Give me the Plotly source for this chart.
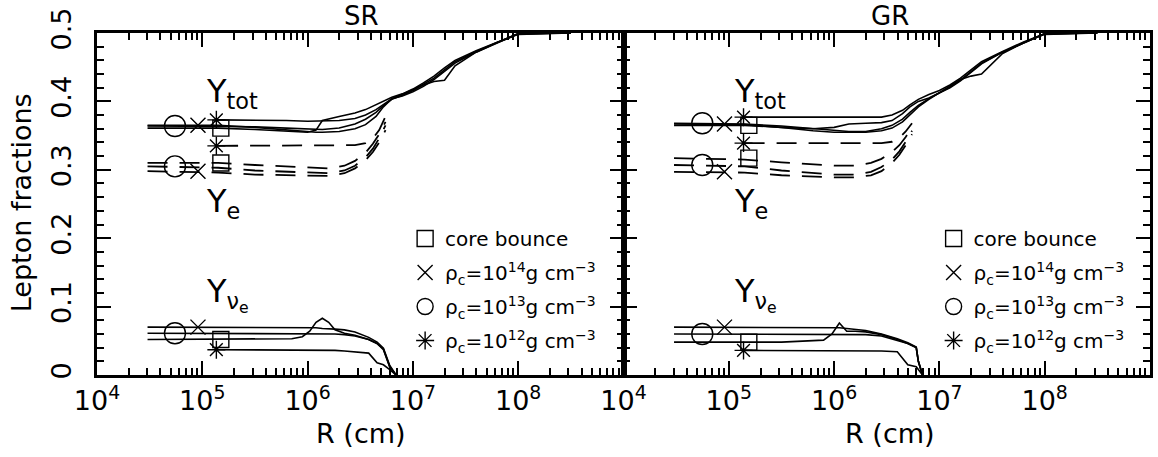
import plotly.graph_objects as go

# ---- radius grids (log10 R [cm]) ----
LOGR_TOT = [4.48, 5.0, 5.15, 5.5, 5.8, 6.0, 6.08, 6.14, 6.3, 6.45, 6.55, 6.65,
            6.72, 6.8, 6.9, 7.0, 7.1, 7.2, 7.3, 7.4, 7.6, 7.8, 8.0, 8.5]
LOGR_E = [4.48, 5.0, 5.15, 5.5, 6.0, 6.2, 6.35, 6.45, 6.55, 6.62, 6.68, 6.74]
LOGR_NU_SR = [4.48, 5.0, 5.15, 5.5, 5.85, 5.95, 6.02, 6.08, 6.14, 6.2, 6.26, 6.35,
              6.45, 6.58, 6.66, 6.72, 6.78, 6.84]
LOGR_NU_GR = [4.48, 5.0, 5.15, 5.5, 5.9, 5.98, 6.05, 6.12, 6.2, 6.3, 6.45, 6.6,
              6.7, 6.78, 6.8, 6.84]

# ---- SR: total lepton fraction ----
SR_YTOT_BOUNCE = [0.361, 0.361, 0.361, 0.359, 0.356, 0.355, 0.358, 0.372, 0.378, 0.383, 0.388, 0.395,
                  0.401, 0.406, 0.411, 0.418, 0.427, 0.437, 0.449, 0.460, 0.474, 0.487, 0.499, 0.500]
SR_YTOT_R14 = [0.365, 0.365, 0.365, 0.362, 0.358, 0.356, 0.355, 0.355, 0.356, 0.360, 0.366, 0.378,
               0.392, 0.404, 0.410, 0.417, 0.424, 0.429, 0.431, 0.452, 0.472, 0.486, 0.498, 0.500]
SR_YTOT_R13 = [0.364, 0.364, 0.364, 0.363, 0.361, 0.360, 0.359, 0.359, 0.361, 0.367, 0.374, 0.384,
               0.394, 0.403, 0.409, 0.416, 0.425, 0.434, 0.446, 0.458, 0.473, 0.486, 0.499, 0.500]
SR_YTOT_R12 = [None, None, 0.373, 0.373, 0.372, 0.371, 0.371, 0.371, 0.372, 0.375, 0.380, 0.388,
               0.396, 0.404, 0.408, 0.414, 0.422, 0.432, 0.444, 0.456, 0.472, 0.486, 0.499, 0.500]

# ---- SR: electron fraction ----
SR_YE_BOUNCE = [0.310, 0.310, 0.310, 0.307, 0.303, 0.302, 0.306, 0.313, 0.325, 0.338, 0.352, 0.370]
SR_YE_R14 = [0.298, 0.297, 0.296, 0.293, 0.291, 0.291, 0.295, 0.302, 0.314, 0.326, 0.340, 0.358]
SR_YE_R13 = [0.305, 0.304, 0.303, 0.299, 0.296, 0.295, 0.299, 0.306, 0.318, 0.331, 0.346, 0.365]
SR_YE_R12 = [None, None, 0.335, 0.335, 0.335, 0.335, 0.335, 0.336, 0.339, 0.346, 0.358, 0.378]

# ---- SR: electron-neutrino fraction ----
SR_YNU_BOUNCE = [0.052, 0.052, 0.052, 0.052, 0.053, 0.056, 0.064, 0.077, 0.083, 0.077, 0.066, 0.061,
                 0.058, 0.052, 0.046, 0.037, 0.012, 0.0]
SR_YNU_R14 = [0.070, 0.070, 0.070, 0.070, 0.070, 0.069, 0.069, 0.069, 0.068, 0.068, 0.067, 0.066,
              0.063, 0.055, 0.048, 0.039, 0.014, 0.0]
SR_YNU_R13 = [0.061, 0.061, 0.061, 0.061, 0.061, 0.061, 0.061, 0.061, 0.061, 0.060, 0.060, 0.059,
              0.057, 0.052, 0.046, 0.038, 0.012, 0.0]
SR_YNU_R12 = [None, None, 0.037, 0.037, 0.036, 0.036, 0.036, 0.036, 0.036, 0.036, 0.036, 0.035,
              0.034, 0.032, 0.018, 0.015, 0.008, 0.0]

# ---- GR: total lepton fraction ----
GR_YTOT_BOUNCE = [0.365, 0.365, 0.365, 0.362, 0.360, 0.362, 0.365, 0.367, 0.368, 0.369, 0.372, 0.382,
                  0.392, 0.400, 0.405, 0.412, 0.420, 0.430, 0.442, 0.455, 0.472, 0.486, 0.499, 0.500]
GR_YTOT_R14 = [0.367, 0.367, 0.366, 0.362, 0.357, 0.355, 0.355, 0.355, 0.355, 0.357, 0.361, 0.370,
               0.380, 0.392, 0.403, 0.413, 0.423, 0.432, 0.437, 0.440, 0.470, 0.486, 0.498, 0.500]
GR_YTOT_R13 = [0.368, 0.368, 0.367, 0.364, 0.360, 0.357, 0.356, 0.356, 0.356, 0.360, 0.365, 0.374,
               0.384, 0.394, 0.404, 0.412, 0.421, 0.431, 0.443, 0.456, 0.472, 0.486, 0.499, 0.500]
GR_YTOT_R12 = [None, None, 0.377, 0.377, 0.376, 0.376, 0.376, 0.376, 0.376, 0.377, 0.380, 0.387,
               0.395, 0.403, 0.410, 0.416, 0.424, 0.434, 0.446, 0.458, 0.473, 0.487, 0.499, 0.500]

# ---- GR: electron fraction ----
GR_YE_BOUNCE = [0.317, 0.316, 0.315, 0.311, 0.306, 0.306, 0.310, 0.316, 0.326, 0.336, 0.348, 0.362]
GR_YE_R14 = [0.297, 0.297, 0.296, 0.292, 0.289, 0.289, 0.292, 0.298, 0.310, 0.322, 0.336, 0.352]
GR_YE_R13 = [0.307, 0.306, 0.305, 0.299, 0.293, 0.293, 0.297, 0.304, 0.315, 0.327, 0.341, 0.357]
GR_YE_R12 = [None, None, 0.339, 0.339, 0.339, 0.339, 0.339, 0.339, 0.341, 0.347, 0.356, 0.368]

# ---- GR: electron-neutrino fraction ----
GR_YNU_BOUNCE = [0.048, 0.048, 0.048, 0.048, 0.051, 0.060, 0.076, 0.064, 0.064, 0.063, 0.059, 0.052,
                 0.046, 0.040, 0.020, 0.0]
GR_YNU_R14 = [0.070, 0.070, 0.070, 0.070, 0.070, 0.069, 0.069, 0.068, 0.067, 0.065, 0.060, 0.053,
              0.047, 0.041, 0.020, 0.0]
GR_YNU_R13 = [0.060, 0.060, 0.060, 0.060, 0.060, 0.060, 0.060, 0.060, 0.060, 0.059, 0.057, 0.051,
              0.046, 0.040, 0.020, 0.0]
GR_YNU_R12 = [None, None, 0.036, 0.036, 0.036, 0.036, 0.036, 0.036, 0.036, 0.035, 0.035, 0.034,
              0.015, 0.012, 0.008, 0.0]

# ---- symbols marking each epoch: radius and (Ytot, Ye, Ynu) ----
EPOCHS = ["bounce", "r14", "r13", "r12"]
EPOCH_NAMES = ["core bounce",
               "ρ<sub>c</sub>=10<sup>14</sup>g cm<sup>−3</sup>",
               "ρ<sub>c</sub>=10<sup>13</sup>g cm<sup>−3</sup>",
               "ρ<sub>c</sub>=10<sup>12</sup>g cm<sup>−3</sup>"]
SR_MARK_R = [1.5e5, 9.1e4, 5.5e4, 1.36e5]
SR_MARK_Y = [[0.361, 0.310, 0.052], [0.365, 0.298, 0.070],
             [0.364, 0.305, 0.061], [0.373, 0.335, 0.037]]
GR_MARK_R = [1.55e5, 9.1e4, 5.6e4, 1.38e5]
GR_MARK_Y = [[0.365, 0.317, 0.048], [0.367, 0.297, 0.070],
             [0.368, 0.307, 0.060], [0.377, 0.339, 0.036]]

X_TICKS = [1e4, 1e5, 1e6, 1e7, 1e8]
X_TICKTEXT = ["10<sup>4</sup>", "10<sup>5</sup>", "10<sup>6</sup>", "10<sup>7</sup>", "10<sup>8</sup>"]
Y_TICKS = [0, 0.1, 0.2, 0.3, 0.4, 0.5]
Y_TICKTEXT = ["0", "0.1", "0.2", "0.3", "0.4", "0.5"]

FONT = "DejaVu Sans"
INK = "black"

SYMBOLS = {
    "bounce": dict(symbol="square-open", size=16, line=dict(width=1.4, color=INK), color=INK),
    "r14": dict(symbol="x-thin-open", size=15, line=dict(width=1.4, color=INK), color=INK),
    "r13": dict(symbol="circle-open", size=21, line=dict(width=1.4, color=INK), color=INK),
    "r12": dict(symbol="asterisk-open", size=15, line=dict(width=1.4, color=INK), color=INK),
}


def to_r(logs):
    return [10 ** v for v in logs]


fig = go.Figure()

panels = [
    ("x", "y", "legend",
     [SR_YTOT_BOUNCE, SR_YTOT_R14, SR_YTOT_R13, SR_YTOT_R12],
     [SR_YE_BOUNCE, SR_YE_R14, SR_YE_R13, SR_YE_R12],
     [SR_YNU_BOUNCE, SR_YNU_R14, SR_YNU_R13, SR_YNU_R12], LOGR_NU_SR,
     SR_MARK_R, SR_MARK_Y),
    ("x2", "y2", "legend2",
     [GR_YTOT_BOUNCE, GR_YTOT_R14, GR_YTOT_R13, GR_YTOT_R12],
     [GR_YE_BOUNCE, GR_YE_R14, GR_YE_R13, GR_YE_R12],
     [GR_YNU_BOUNCE, GR_YNU_R14, GR_YNU_R13, GR_YNU_R12], LOGR_NU_GR,
     GR_MARK_R, GR_MARK_Y),
]

for xa, ya, leg, ytot, ye, ynu, logr_nu, mark_r, mark_y in panels:
    for k in range(4):
        fig.add_trace(go.Scatter(x=to_r(LOGR_TOT), y=ytot[k], mode="lines", xaxis=xa, yaxis=ya,
                                 line=dict(color=INK, width=1.6), showlegend=False, hoverinfo="skip"))
        fig.add_trace(go.Scatter(x=to_r(LOGR_E), y=ye[k], mode="lines", xaxis=xa, yaxis=ya,
                                 line=dict(color=INK, width=1.8, dash="20px,12px"),
                                 showlegend=False, hoverinfo="skip"))
        fig.add_trace(go.Scatter(x=to_r(logr_nu), y=ynu[k], mode="lines", xaxis=xa, yaxis=ya,
                                 line=dict(color=INK, width=1.6), showlegend=False, hoverinfo="skip"))
    for k, ep in enumerate(EPOCHS):
        fig.add_trace(go.Scatter(x=[mark_r[k]] * 3, y=mark_y[k], mode="markers", xaxis=xa, yaxis=ya,
                                 marker=SYMBOLS[ep], name=EPOCH_NAMES[k], legend=leg,
                                 legendgroup=f"{leg}-{ep}", showlegend=True))

minor_x = [m * 10 ** d for d in range(4, 9) for m in range(2, 10)]

xcommon = dict(type="log", range=[4, 9], tickvals=X_TICKS, ticktext=X_TICKTEXT,
               showline=True, linecolor=INK, linewidth=2.5, mirror="allticks",
               ticks="inside", ticklen=14, tickwidth=2, tickcolor=INK,
               showgrid=False, zeroline=False,
               tickfont=dict(family=FONT, size=27, color=INK),
               minor=dict(ticks="inside", ticklen=7, tickwidth=2, tickcolor=INK,
                          tickmode="array", tickvals=minor_x, showgrid=False))
ycommon = dict(range=[0, 0.5], tickvals=Y_TICKS, ticktext=Y_TICKTEXT,
               showline=True, linecolor=INK, linewidth=2.5, mirror="allticks",
               ticks="inside", ticklen=14, tickwidth=2, tickcolor=INK,
               showgrid=False, zeroline=False, tickangle=-90,
               tickfont=dict(family=FONT, size=27, color=INK),
               minor=dict(ticks="inside", ticklen=7, tickwidth=2, tickcolor=INK,
                          dtick=0.02, tick0=0, showgrid=False))

legend_common = dict(font=dict(family=FONT, size=20, color=INK), bgcolor="rgba(0,0,0,0)",
                     xanchor="left", yanchor="top", itemsizing="trace", itemwidth=30,
                     tracegroupgap=5)

W_PLOT = 1158 - 97 - 5
H_PLOT = 457 - 33 - 82


def px_x(px):
    return (px - 97) / W_PLOT


def px_y(py):
    return (375 - py) / H_PLOT


def label(text, x, y, size, **kw):
    return dict(text=text, x=px_x(x), y=px_y(y), xref="paper", yref="paper",
                xanchor=kw.pop("xanchor", "center"), yanchor="middle", showarrow=False,
                font=dict(family=FONT, size=size, color=INK), **kw)


annotations = []
for off, title in [(0, "SR"), (530, "GR")]:
    annotations.append(label(title, 362 + off, 16, 26))
    annotations.append(label("R (cm)", 362 + off, 433, 27))
    annotations.append(label("Y<sub>tot</sub>", 204 + off, 93, 32, xanchor="left"))
    annotations.append(label("Y<sub>e</sub>", 204 + off, 203, 32, xanchor="left"))
    annotations.append(label("Y<sub>ν<sub>e</sub></sub>", 204 + off, 294, 32, xanchor="left"))

annotations.append(label("Lepton fractions", 21, 203, 27, textangle=-90))

fig.update_layout(
    width=1158, height=457,
    margin=dict(l=97, r=5, t=33, b=82),
    paper_bgcolor="white", plot_bgcolor="white",
    xaxis=dict(domain=[0, 0.5], anchor="y", **xcommon),
    xaxis2=dict(domain=[0.5, 1], anchor="y2", **xcommon),
    yaxis=dict(domain=[0, 1], anchor="x", showticklabels=True, ticklabelstandoff=12, **ycommon),
    yaxis2=dict(domain=[0, 1], anchor="x2", showticklabels=False, **ycommon),
    legend=dict(x=px_x(406), y=px_y(219), **legend_common),
    legend2=dict(x=px_x(936), y=px_y(219), **legend_common),
    annotations=annotations,
    font=dict(family=FONT, color=INK),
)

fig.write_html("out.html")
